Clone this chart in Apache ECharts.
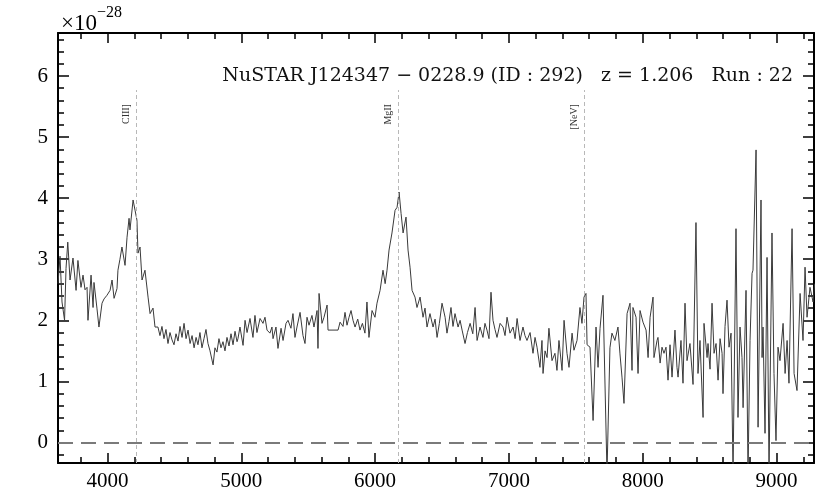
<!DOCTYPE html>
<html><head><meta charset="utf-8">
<script src="https://cdn.jsdelivr.net/npm/echarts@6/dist/echarts.min.js"></script>
<style>html,body{margin:0;padding:0;background:#fff}#c{width:830px;height:498px}</style>
</head><body><div id="c"></div>
<script>
// ---- data ----
const wavelength = [3630,3645,3660,3679,3690,3703,3720,3742,3765,3779,3802,3817,3832,3847,3854,3877,3892,3899,3921,3936,3959,3974,3996,4019,4034,4049,4071,4078,4093,4108,4131,4146,4161,4168,4191,4206,4220,4228,4243,4258,4280,4303,4318,4340,4355,4377,4392,4407,4422,4437,4452,4467,4482,4497,4512,4527,4542,4557,4572,4587,4602,4617,4632,4647,4662,4676,4691,4706,4721,4736,4751,4766,4781,4789,4803,4818,4833,4848,4863,4878,4893,4908,4923,4938,4953,4968,4975,4990,5013,5028,5043,5065,5087,5102,5117,5140,5162,5177,5192,5214,5229,5237,5259,5274,5297,5312,5334,5349,5371,5386,5401,5416,5439,5461,5476,5491,5506,5528,5543,5566,5573,5581,5603,5618,5641,5648,5723,5738,5760,5775,5790,5805,5820,5835,5850,5870,5887,5905,5924,5939,5954,5977,5999,6014,6037,6059,6075,6089,6104,6126,6149,6164,6179,6194,6209,6231,6246,6261,6276,6298,6313,6336,6358,6373,6388,6410,6433,6448,6463,6480,6500,6523,6537,6552,6567,6582,6597,6620,6635,6650,6672,6690,6710,6730,6747,6762,6784,6806,6821,6836,6851,6866,6881,6896,6911,6934,6956,6971,6986,7008,7031,7046,7061,7083,7105,7120,7135,7158,7180,7195,7210,7232,7247,7255,7270,7285,7299,7322,7344,7359,7374,7397,7412,7434,7449,7472,7486,7509,7531,7546,7561,7576,7584,7606,7629,7651,7666,7681,7703,7733,7755,7770,7792,7815,7830,7845,7860,7883,7905,7920,7927,7950,7965,7980,8002,8025,8040,8055,8077,8084,8107,8114,8130,8144,8159,8174,8189,8204,8219,8241,8256,8264,8286,8301,8316,8331,8353,8376,8398,8413,8428,8451,8458,8481,8488,8503,8518,8533,8548,8563,8578,8593,8600,8615,8630,8645,8660,8675,8697,8712,8727,8742,8750,8772,8787,8802,8817,8824,8847,8862,8884,8892,8899,8914,8929,8944,8966,8981,8996,9011,9026,9049,9064,9079,9093,9116,9131,9153,9176,9198,9213,9228,9250,9273,9285];
const flux = [2.6,3.05,2.3,2.0,2.85,3.28,2.66,3.02,2.49,2.98,2.54,2.74,2.5,2.54,2.0,2.74,2.21,2.62,2.2,1.89,2.28,2.35,2.41,2.49,2.66,2.36,2.52,2.82,3.0,3.2,2.9,3.36,3.67,3.48,3.97,3.8,3.64,3.1,3.2,2.66,2.82,2.38,2.11,2.2,1.89,1.89,1.75,1.9,1.7,1.85,1.62,1.8,1.68,1.6,1.78,1.66,1.9,1.72,1.95,1.7,1.84,1.62,1.75,1.55,1.72,1.6,1.8,1.55,1.7,1.85,1.62,1.5,1.35,1.27,1.55,1.48,1.7,1.55,1.65,1.5,1.72,1.58,1.78,1.6,1.82,1.65,1.7,1.89,1.59,2.0,1.8,2.03,1.72,2.08,1.8,2.03,1.95,2.05,1.84,1.79,1.89,1.7,1.89,1.54,1.87,1.67,1.95,2.0,1.87,2.11,1.72,1.89,2.13,1.75,1.62,2.05,1.92,2.08,1.89,2.16,1.54,2.44,1.95,2.05,2.25,1.84,1.84,1.97,1.9,2.13,1.92,2.05,2.16,2.0,1.89,2.02,1.84,1.95,1.79,2.3,1.72,2.16,2.05,2.28,2.49,2.82,2.6,2.82,3.15,3.43,3.8,3.85,4.1,3.75,3.43,3.69,3.15,2.87,2.49,2.38,2.21,2.38,2.05,2.2,1.89,2.11,1.89,2.02,1.72,1.95,2.28,2.05,1.79,1.98,2.21,1.9,2.11,1.89,2.0,1.84,1.62,1.8,1.95,1.78,2.21,1.67,1.89,1.72,1.95,1.84,1.7,2.46,2.0,1.85,1.72,1.95,1.89,1.75,2.05,1.79,1.89,1.7,2.03,1.67,1.89,1.75,1.67,1.8,1.46,1.72,1.56,1.23,1.67,1.13,1.5,1.39,1.87,1.34,1.46,1.18,1.67,1.18,2.0,1.46,1.23,1.79,1.51,1.67,2.21,1.95,2.38,2.44,1.6,1.56,0.36,1.89,1.23,1.87,2.41,-0.5,1.55,1.79,1.67,1.89,1.45,1.07,0.64,2.11,2.28,1.18,2.21,2.05,1.13,2.16,1.97,1.84,1.39,2.05,2.38,1.39,1.67,1.72,1.3,1.56,1.46,1.56,1.02,1.6,1.07,1.84,1.23,1.07,1.67,0.97,2.28,1.34,1.62,0.95,3.6,1.13,1.67,0.41,1.95,1.39,1.62,1.2,2.28,1.46,1.62,1.02,1.7,1.46,0.8,1.9,2.33,1.56,1.79,-0.5,3.5,0.41,1.89,1.39,0.57,2.49,-0.5,1.67,2.77,2.82,4.79,0.25,3.97,1.39,1.89,0.15,3.03,-0.5,3.43,1.13,0.03,1.56,1.34,1.95,1.13,1.67,0.97,3.5,1.13,0.85,2.44,1.67,2.87,2.05,2.54,2.3,2.6];
const lineNames = ['CIII]', 'MgII', '[NeV]'];
const lineWavelengths = [4213, 6171, 7565];
const lineTop = 5.77;
const xTickLabels = [4000, 5000, 6000, 7000, 8000, 9000];
const yTickLabels = [0, 1, 2, 3, 4, 5, 6];
const titleText = 'NuSTAR J124347 \u2212 0228.9 (ID : 292)   z = 1.206   Run : 22';
const XMIN = 3630, XMAX = 9280, YMIN = -0.336, YMAX = 6.704;

const SERIF = '"Liberation Serif", "DejaVu Serif", serif';
const chart = echarts.init(document.getElementById('c'), null, {renderer: 'canvas'});

function xAxisDef(pos, minor) {
  return {
    type: 'value', position: pos, min: XMIN, max: XMAX,
    splitNumber: minor ? 28 : 6,
    axisLine: {show: !minor, onZero: false, lineStyle: {color: '#000', width: 2}},
    axisTick: {show: true, inside: true, length: minor ? 6 : 10, lineStyle: {color: '#000', width: 1.5}},
    axisLabel: {show: pos === 'bottom' && !minor, margin: 8, color: '#000', fontFamily: SERIF, fontSize: 21,
      formatter: v => (xTickLabels.indexOf(v) >= 0 ? String(v) : '')},
    splitLine: {show: false}
  };
}
function yAxisDef(pos, minor) {
  return {
    type: 'value', position: pos, min: YMIN, max: YMAX,
    splitNumber: minor ? 35 : 7,
    axisLine: {show: !minor, onZero: false, lineStyle: {color: '#000', width: 2}},
    axisTick: {show: true, inside: true, length: minor ? 6 : 11, lineStyle: {color: '#000', width: 1.5}},
    axisLabel: {show: pos === 'left' && !minor, margin: 10, color: '#000', fontFamily: SERIF, fontSize: 21,
      formatter: v => (yTickLabels.indexOf(Math.round(v * 1000) / 1000) >= 0 ? String(Math.round(v)) : '')},
    splitLine: {show: false}
  };
}

const markData = [
  {yAxis: 0, label: {show: false}, lineStyle: {color: '#7a7a7a', width: 2, type: [15, 8]}}
];
lineWavelengths.forEach((w, i) => {
  markData.push([
    {coord: [w, YMIN], lineStyle: {color: '#b8b8b8', width: 1, type: [4, 3]},
     label: {show: true, formatter: lineNames[i], position: 'insideEndTop', distance: 5,
             padding: [0, 9, 0, 0], fontFamily: SERIF, fontSize: 10, color: '#333'}},
    {coord: [w, lineTop]}
  ]);
});

chart.setOption({
  animation: false,
  backgroundColor: '#fff',
  grid: {left: 58, right: 16, top: 33, bottom: 35, containLabel: false, outerBoundsMode: 'none'},
  title: [
    {text: '{a|\u00d710}{b|\u221228}', left: 56, top: 0,
     textStyle: {fontWeight: 'normal', rich: {
       a: {fontFamily: SERIF, fontSize: 23, fontWeight: 'normal', color: '#000', verticalAlign: 'bottom', lineHeight: 30},
       b: {fontFamily: SERIF, fontSize: 16, fontWeight: 'normal', color: '#000', verticalAlign: 'top', lineHeight: 30}}}},
    {text: titleText, right: 32, top: 62,
     textStyle: {fontFamily: '"DejaVu Serif", serif', fontSize: 19, fontWeight: 'normal', color: '#111'}}
  ],
  xAxis: [xAxisDef('bottom', false), xAxisDef('bottom', true), xAxisDef('top', false), xAxisDef('top', true)],
  yAxis: [yAxisDef('left', false), yAxisDef('left', true), yAxisDef('right', false), yAxisDef('right', true)],
  series: [{
    type: 'line', xAxisIndex: 0, yAxisIndex: 0, showSymbol: false, symbol: 'none', clip: true,
    data: wavelength.map((w, i) => [w, flux[i]]),
    lineStyle: {color: '#3a3a3a', width: 1},
    markLine: {silent: true, symbol: ['none', 'none'], animation: false, data: markData}
  }]
});
</script></body></html>
